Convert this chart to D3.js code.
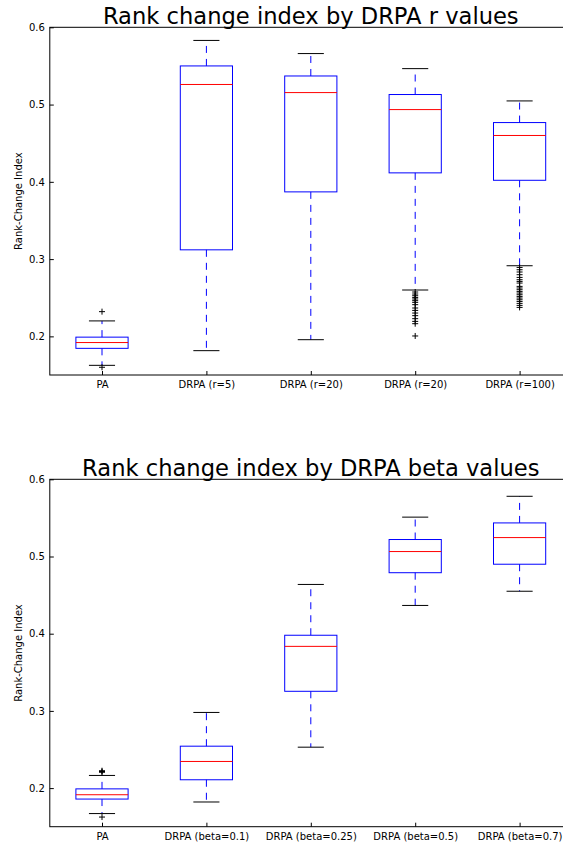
<!DOCTYPE html>
<html>
<head>
<meta charset="utf-8">
<script src="https://cdn.jsdelivr.net/npm/d3@7"></script>
<style>
  html, body { margin: 0; padding: 0; background: #fff; }
  svg { display: block; }
  text { font-family: "DejaVu Sans", sans-serif; }
</style>
</head>
<body>
<svg id="chart" width="563" height="846"></svg>
<script>
// ---------- DATA ----------
const yTickValues = [0.2, 0.3, 0.4, 0.5, 0.6];

// Panel 1: r values
const rTitle = "Rank change index by DRPA r values";
const rCategories = ["PA", "DRPA (r=5)", "DRPA (r=20)", "DRPA (r=20)", "DRPA (r=100)"];
const rWhiskerLow  = [0.1625, 0.1815, 0.1957, 0.260, 0.2914];
const rQ1          = [0.1845, 0.312, 0.387, 0.4116, 0.402];
const rMedian      = [0.192, 0.526, 0.5155, 0.4935, 0.460];
const rQ3          = [0.199, 0.550, 0.537, 0.513, 0.4767];
const rWhiskerHigh = [0.220, 0.583, 0.566, 0.5465, 0.5047];
const rFliers = [
  [0.232, 0.160],
  [],
  [],
  [0.2574, 0.2548, 0.2526, 0.2504, 0.2484, 0.2462, 0.244, 0.241, 0.2367, 0.2336,
   0.2302, 0.2268, 0.2229, 0.2194, 0.2164, 0.2005],
  [0.2892, 0.2862, 0.2833, 0.2798, 0.2763, 0.2733, 0.2711, 0.2690, 0.2647, 0.2626,
   0.2604, 0.2582, 0.2561, 0.2539, 0.2517, 0.2496, 0.2474, 0.2452, 0.2427, 0.2401, 0.2375]
];

// Panel 2: beta values
const betaTitle = "Rank change index by DRPA beta values";
const betaCategories = ["PA", "DRPA (beta=0.1)", "DRPA (beta=0.25)", "DRPA (beta=0.5)", "DRPA (beta=0.7)"];
const betaWhiskerLow  = [0.167, 0.182, 0.253, 0.4366, 0.455];
const betaQ1          = [0.1858, 0.2108, 0.3254, 0.479, 0.490];
const betaMedian      = [0.1914, 0.2345, 0.3836, 0.5064, 0.5245];
const betaQ3          = [0.199, 0.2543, 0.398, 0.522, 0.5435];
const betaWhiskerHigh = [0.2164, 0.298, 0.4638, 0.551, 0.578];
const betaFliers = [
  [0.2225, 0.2215, 0.2205, 0.1625],
  [], [], [], []
];

// ---------- DRAW ----------
const svg = d3.select("#chart");

function drawPanel(cfg) {
  const left = 49.8, right = 571.8;
  const x = d3.scaleLinear().domain([0.5, 5.5]).range([left, right]);
  const y = d3.scaleLinear().domain([0.15, 0.6]).range([cfg.bottom, cfg.top]);
  const g = svg.append("g");
  const boxHalf = (x(1.25) - x(1)) ;     // box width 0.5
  const capHalf = (x(1.125) - x(1));     // cap width 0.25

  // whiskers
  cfg.cats.forEach((c, i) => {
    const cx = x(i + 1);
    g.append("line").attr("x1", cx).attr("x2", cx)
      .attr("y1", y(cfg.q3[i])).attr("y2", y(cfg.hi[i]))
      .attr("stroke", "#0000ff").attr("stroke-width", 1).attr("stroke-dasharray", "7,6");
    g.append("line").attr("x1", cx).attr("x2", cx)
      .attr("y1", y(cfg.q1[i])).attr("y2", y(cfg.lo[i]))
      .attr("stroke", "#0000ff").attr("stroke-width", 1).attr("stroke-dasharray", "7,6");
    // caps
    [cfg.hi[i], cfg.lo[i]].forEach(v => {
      g.append("line").attr("x1", cx - capHalf).attr("x2", cx + capHalf)
        .attr("y1", y(v)).attr("y2", y(v))
        .attr("stroke", "#000").attr("stroke-width", 1);
    });
    // box
    g.append("rect").attr("x", cx - boxHalf).attr("width", 2 * boxHalf)
      .attr("y", y(cfg.q3[i])).attr("height", y(cfg.q1[i]) - y(cfg.q3[i]))
      .attr("fill", "none").attr("stroke", "#0000ff").attr("stroke-width", 1);
    // median
    g.append("line").attr("x1", cx - boxHalf).attr("x2", cx + boxHalf)
      .attr("y1", y(cfg.med[i])).attr("y2", y(cfg.med[i]))
      .attr("stroke", "#ff0000").attr("stroke-width", 1);
    // fliers
    cfg.fliers[i].forEach(v => {
      const py = y(v);
      g.append("path")
        .attr("d", `M${cx - 3},${py}H${cx + 3}M${cx},${py - 3}V${py + 3}`)
        .attr("stroke", "#000").attr("stroke-width", 1).attr("fill", "none");
    });
  });

  // spines
  g.append("rect").attr("x", left).attr("y", cfg.top)
    .attr("width", right - left).attr("height", cfg.bottom - cfg.top)
    .attr("fill", "none").attr("stroke", "#000").attr("stroke-width", 1);

  // y axis
  const ya = g.append("g").attr("transform", `translate(${left},0)`)
    .call(d3.axisLeft(y).tickValues(yTickValues).tickFormat(d3.format(".1f"))
      .tickSizeInner(-4).tickSizeOuter(0).tickPadding(5));
  ya.select(".domain").remove();
  ya.selectAll("text").attr("font-size", 10).attr("fill", "#000")
    .attr("font-family", "DejaVu Sans");
  ya.selectAll("line").attr("stroke", "#000");

  // x axis
  const xa = g.append("g").attr("transform", `translate(0,${cfg.bottom})`)
    .call(d3.axisBottom(x).tickValues([1, 2, 3, 4, 5])
      .tickFormat((d) => cfg.cats[d - 1])
      .tickSizeInner(-4).tickSizeOuter(0).tickPadding(6));
  xa.select(".domain").remove();
  xa.selectAll("text").attr("font-size", 10).attr("fill", "#000")
    .attr("font-family", "DejaVu Sans");
  xa.selectAll("line").attr("stroke", "#000");

  // y label
  g.append("text")
    .attr("transform", `translate(21.5,${(cfg.top + cfg.bottom) / 2}) rotate(-90)`)
    .attr("text-anchor", "middle").attr("font-size", 10).attr("fill", "#000")
    .text("Rank-Change Index");

  // title
  g.append("text")
    .attr("x", (left + right) / 2).attr("y", cfg.top - 3.5)
    .attr("text-anchor", "middle").attr("font-size", 22.6).attr("fill", "#000")
    .text(cfg.title);
}

drawPanel({
  top: 27.3, bottom: 375, title: rTitle, cats: rCategories,
  lo: rWhiskerLow, q1: rQ1, med: rMedian, q3: rQ3, hi: rWhiskerHigh, fliers: rFliers
});
drawPanel({
  top: 479.3, bottom: 826.7, title: betaTitle, cats: betaCategories,
  lo: betaWhiskerLow, q1: betaQ1, med: betaMedian, q3: betaQ3, hi: betaWhiskerHigh, fliers: betaFliers
});
</script>
</body>
</html>
